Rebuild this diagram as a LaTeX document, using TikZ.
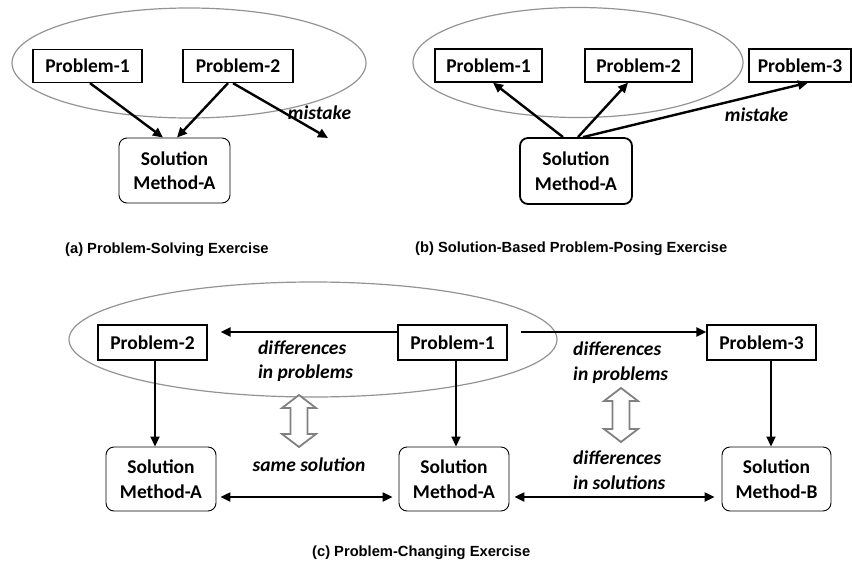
\documentclass[tikz,border=0pt]{standalone}
\usepackage{fontspec}
\setmainfont{Carlito}
\newfontfamily\capfont{Liberation Sans}
\usetikzlibrary{arrows.meta}
\begin{document}
\begin{tikzpicture}[x=1pt,y=-1pt,
  prob/.style={draw, line width=1.3pt, fill=white, minimum height=33pt,
    inner sep=0pt, font=\fontsize{19.5}{23}\selectfont\bfseries},
  sol/.style={draw, line width=0.9pt, rounded corners=8pt, fill=white,
    align=center, inner sep=0pt, minimum height=65pt, minimum width=110pt,
    font=\fontsize{19.5}{24.5}\selectfont\bfseries},
  lbl/.style={inner sep=0pt, align=left,
    font=\fontsize{19.5}{24.5}\selectfont\bfseries\itshape},
  captext/.style={inner sep=0pt, anchor=west,
    font=\capfont\fontsize{14.7}{17}\selectfont\bfseries},
  grp/.style={draw=gray!85, line width=1.2pt},
  arr/.style={line width=2.4pt, -{Triangle[length=10pt,width=9pt]}},
  darr/.style={line width=2.4pt, {Triangle[length=10pt,width=9pt]}-{Triangle[length=10pt,width=9pt]}},
  hollow/.style={draw=gray, line width=1.8pt, fill=white, line join=miter}
]
\useasboundingbox (0,0) rectangle (852,565);

% ---------- (a) problem solving ----------
\draw[grp] (189,63) ellipse [x radius=177, y radius=55];
\node[prob, minimum width=109pt] (pa1) at (87.5,66) {Problem-1};
\node[prob, minimum width=110pt] (pa2) at (238,66) {Problem-2};
\node[sol, minimum width=111pt] (sa) at (174.5,170.5) {Solution\\Method-A};
\coordinate (wrongA) at (328,138);
\draw[arr] ([xshift=2.5pt]pa1.south) -- ([xshift=-11.5pt]sa.north);
\draw[arr] ([xshift=-10pt]pa2.south) -- ([xshift=2.5pt]sa.north);
\draw[arr] ([xshift=-5pt]pa2.south) -- (wrongA);
\node[lbl] (mista) at (319.5,113) {mistake};
\node[captext] (capa) at (65,250) {(a) Problem-Solving Exercise};

% ---------- (b) solution-based problem posing ----------
\draw[grp] (578,62.5) ellipse [x radius=165, y radius=55];
\node[prob, minimum width=107pt] (pb1) at (488.5,65.5) {Problem-1};
\node[prob, minimum width=107pt] (pb2) at (638.5,65.5) {Problem-2};
\node[prob, minimum width=102pt] (pb3) at (800,65.5) {Problem-3};
\node[sol, line width=1.8pt, minimum width=112pt, minimum height=66pt] (sb) at (576,171) {Solution\\Method-A};
\draw[arr] ([xshift=-13pt]sb.north) -- ([xshift=4.5pt]pb1.south);
\draw[arr] ([xshift=2pt]sb.north) -- ([xshift=-10.5pt]pb2.south);
\draw[arr] ([xshift=7pt]sb.north) -- ([xshift=8pt]pb3.south);
\node[lbl] (mistb) at (756.5,115) {mistake};
\node[captext] (capb) at (415,249) {(b) Solution-Based Problem-Posing Exercise};

% ---------- (c) problem changing ----------
\draw[grp] (313,339.5) ellipse [x radius=244, y radius=57.5];
\node[prob, minimum width=109pt, minimum height=35pt] (pc2) at (152.5,342.5) {Problem-2};
\node[prob, minimum width=109pt, minimum height=35pt] (pc1) at (452.5,342.5) {Problem-1};
\node[prob, minimum width=109pt, minimum height=35pt] (pc3) at (761.5,342.5) {Problem-3};
\node[sol, minimum width=110pt, minimum height=64pt] (sc2) at (161,479) {Solution\\Method-A};
\node[sol, minimum width=110pt, minimum height=64pt] (sc1) at (454,479) {Solution\\Method-A};
\node[sol, minimum width=109pt, minimum height=64pt] (sc3) at (776.5,479) {Solution\\Method-B};

\draw[arr, line width=2.2pt] ([yshift=10.5pt]pc1.west) -- ([xshift=13pt,yshift=10.5pt]pc2.east);
\draw[arr, line width=2.2pt] ([xshift=13pt,yshift=10.5pt]pc1.east) -- ([yshift=10.5pt]pc3.west);
\draw[arr, line width=1.8pt] ([xshift=2.5pt]pc2.south) -- ([xshift=2.5pt]pc2.south |- sc2.north);
\draw[arr, line width=1.8pt] ([xshift=3.5pt]pc1.south) -- ([xshift=3.5pt]pc1.south |- sc1.north);
\draw[arr, line width=1.8pt] ([xshift=9.5pt]pc3.south) -- ([xshift=9.5pt]pc3.south |- sc3.north);
\draw[darr, line width=2.2pt] ([xshift=4pt,yshift=-18pt]sc2.east) -- ([xshift=-6pt,yshift=-18pt]sc1.west);
\draw[darr, line width=2.2pt] ([xshift=5pt,yshift=-18pt]sc1.east) -- ([xshift=-7pt,yshift=-18pt]sc3.west);

\node[lbl, anchor=west] (dp1) at (258,361) {differences\\in problems};
\node[lbl, anchor=west] (dp2) at (573,362.5) {differences\\in problems};
\node[lbl, anchor=west] (ds) at (573,470) {differences\\in solutions};
\node[lbl] (same) at (309,465) {same solution};

% hollow two-way arrows
\draw[hollow, shift={(299,395)}] (0,0) -- (17,13) -- (8.5,13) -- (8.5,39) -- (17,39)
  -- (0,52) -- (-17,39) -- (-8.5,39) -- (-8.5,13) -- (-17,13) -- cycle;
\draw[hollow, shift={(621,388)}] (0,0) -- (17,13) -- (8.5,13) -- (8.5,41) -- (17,41)
  -- (0,54) -- (-17,41) -- (-8.5,41) -- (-8.5,13) -- (-17,13) -- cycle;

\node[captext] (capc) at (312,553) {(c) Problem-Changing Exercise};
\end{tikzpicture}
\end{document}
